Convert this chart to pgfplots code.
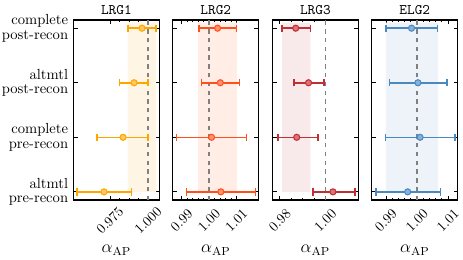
\documentclass[border=0pt]{standalone}
\usepackage{pgfplots}
\pgfplotsset{compat=1.18}
\definecolor{cA}{HTML}{FFA500}
\definecolor{fA}{HTML}{FFC860}
\definecolor{bA}{HTML}{FFF5E4}
\definecolor{cB}{HTML}{FF4F1A}
\definecolor{fB}{HTML}{FF9070}
\definecolor{bB}{HTML}{FFEDE6}
\definecolor{cC}{HTML}{BF3035}
\definecolor{fC}{HTML}{E07075}
\definecolor{bC}{HTML}{F8E9EA}
\definecolor{cD}{HTML}{4A88C0}
\definecolor{fD}{HTML}{85B2DD}
\definecolor{bD}{HTML}{EDF3F8}
\pgfplotsset{
  every axis title/.style={at={(0.5,1)}, anchor=base, yshift=3.6pt, font=\ttfamily},
  every axis x label/.style={at={(0.5,0)}, anchor=base, yshift=-36pt, font=\large},
  panel/.style={
    scale only axis, width=59pt, height=123.3pt,
    ymin=-0.15, ymax=3.15, ytick={0,1,2,3}, yticklabels={},
    tick align=inside, major tick length=3pt, minor tick length=1.6pt,
    tick style={black, line width=0.5pt},
    xtick pos=both, ytick pos=both,
    axis line style={line width=0.8pt},
    xlabel={$\alpha_{\mathrm{AP}}$},
    ticklabel style={font=\fontsize{9.5}{10}\selectfont},
  },
  ebar/.style 2 args={
    only marks, draw=#1, line width=1pt, mark=*, mark size=2.1pt,
    mark options={fill=#2, draw=#1, line width=0.7pt},
    error bars/x dir=both, error bars/x explicit,
    error bars/error bar style={line width=1.05pt, #1},
    error bars/error mark options={rotate=90, mark size=2.5pt, line width=1pt, #1},
  },
}
\begin{document}
\begin{tikzpicture}
\useasboundingbox (-50.2pt,-40.4pt) rectangle (266.9pt,137pt);
% LRG1
\begin{axis}[panel, at={(0pt,0pt)}, anchor=south west,
  xmin=0.951, xmax=1.0074, xtick={0.975,1.000}, xticklabels={0.975,1.000},
  minor x tick num=3, title={LRG1},
  xticklabel style={yshift=-14pt, rotate=45, anchor=center},
  yticklabels={{altmtl\\pre-recon},{complete\\pre-recon},{altmtl\\post-recon},{complete\\post-recon}},
  yticklabel style={align=right, font=\fontsize{10}{10}\selectfont}]
\addplot[fill=bA, draw=none] coordinates {(0.9866,0) (1.0053,0) (1.0053,3.1) (0.9866,3.1) (0.9866,0)};
\addplot[gray, dashed, line width=0.9pt] coordinates {(1,-0.15) (1,3.15)};
\addplot[ebar={cA}{fA}] table[x=x, y=y, x error minus=m, x error plus=p] {
x y m p
0.9960 3 0.0092 0.0090
0.9908 2 0.0095 0.0092
0.9836 1 0.0172 0.0164
0.9711 0 0.0178 0.0179
};
\end{axis}
% LRG2
\begin{axis}[panel, at={(68.1pt,0pt)}, anchor=south west,
  xmin=0.9867, xmax=1.0182, xtick={0.99,1.00,1.01}, xticklabels={0.99,1.00,1.01},
  minor x tick num=4, title={LRG2},
  xticklabel style={yshift=-14pt, rotate=45, anchor=center}]
\addplot[fill=bB, draw=none] coordinates {(0.996,0) (1.0102,0) (1.0102,3.1) (0.996,3.1) (0.996,0)};
\addplot[gray, dashed, line width=0.9pt] coordinates {(1,-0.15) (1,3.15)};
\addplot[ebar={cB}{fB}] table[x=x, y=y, x error minus=m, x error plus=p] {
x y m p
1.0031 3 0.00685 0.00686
1.0041 2 0.00686 0.0071
1.0009 1 0.01276 0.0127
1.0043 0 0.0125 0.0126
};
\end{axis}
% LRG3
\begin{axis}[panel, at={(136.3pt,0pt)}, anchor=south west,
  xmin=0.9767, xmax=1.0145, xtick={0.98,1.00}, xticklabels={0.98,1.00},
  minor x tick num=3, title={LRG3},
  xticklabel style={yshift=-14pt, rotate=45, anchor=center}]
\addplot[fill=bC, draw=none] coordinates {(0.981,0) (0.99335,0) (0.99335,3.1) (0.981,3.1) (0.981,0)};
\addplot[gray, dashed, line width=0.9pt] coordinates {(1,-0.15) (1,3.15)};
\addplot[ebar={cC}{fC}] table[x=x, y=y, x error minus=m, x error plus=p] {
x y m p
0.98696 3 0.0060 0.0064
0.9926 2 0.0064 0.0067
0.9874 1 0.0083 0.0093
1.0033 0 0.0088 0.0096
};
\end{axis}
% ELG2
\begin{axis}[panel, at={(204.4pt,0pt)}, anchor=south west,
  xmin=0.9854, xmax=1.0132, xtick={0.99,1.00,1.01}, xticklabels={0.99,1.00,1.01},
  minor x tick num=4, title={ELG2},
  xticklabel style={yshift=-14pt, rotate=45, anchor=center}]
\addplot[fill=bD, draw=none] coordinates {(0.99,0) (1.0068,0) (1.0068,3.1) (0.99,3.1) (0.99,0)};
\addplot[gray, dashed, line width=0.9pt] coordinates {(1,-0.15) (1,3.15)};
\addplot[ebar={cD}{fD}] table[x=x, y=y, x error minus=m, x error plus=p] {
x y m p
0.99825 3 0.0083 0.0084
1.0003 2 0.0092 0.0094
1.0010 1 0.0111 0.0112
0.9970 0 0.0102 0.0106
};
\end{axis}
\end{tikzpicture}
\end{document}
